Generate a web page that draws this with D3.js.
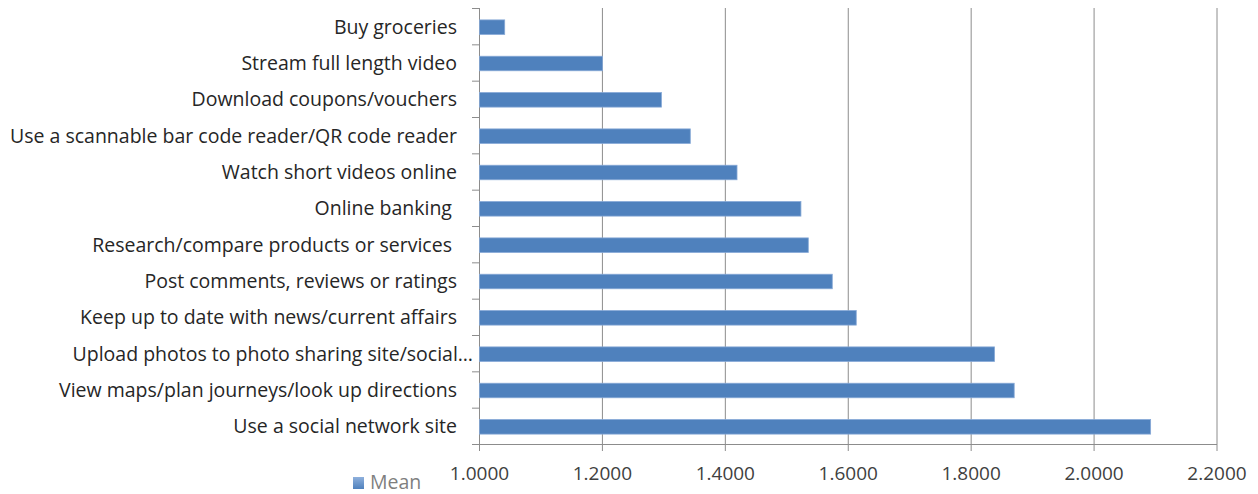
<!DOCTYPE html>
<html><head><meta charset="utf-8">
<script src="https://cdn.jsdelivr.net/npm/d3@7"></script>
<style>
body{margin:0;background:#fff;}
svg{display:block;}
text{font-family:"Open Sans",Lato,sans-serif;}
</style></head>
<body><svg id="chart" width="1258" height="494"></svg>
<script>
const categories = [
  "Buy groceries",
  "Stream full length video",
  "Download coupons/vouchers",
  "Use a scannable bar code reader/QR code reader",
  "Watch short videos online",
  "Online banking ",
  "Research/compare products or services ",
  "Post comments, reviews or ratings",
  "Keep up to date with news/current affairs",
  "Upload photos to photo sharing site/social…",
  "View maps/plan journeys/look up directions",
  "Use a social network site"
];
const meanValues = [1.041, 1.200, 1.296, 1.343, 1.419, 1.523, 1.535, 1.574, 1.613, 1.838, 1.870, 2.092];
const xTicks = [1.0, 1.2, 1.4, 1.6, 1.8, 2.0, 2.2];
const seriesName = "Mean";

const svg = d3.select("#chart");
const m = {left: 479, right: 1258 - 1216.5, top: 8, bottom: 494 - 444};
const W = 1258, H = 494;
const x = d3.scaleLinear().domain([1.0, 2.2]).range([m.left, W - m.right]);
const y = d3.scaleBand().domain(categories).range([m.top, H - m.bottom]).paddingInner(0.6).paddingOuter(0.3);
const yIdx = d3.scaleLinear().domain([0, categories.length]).range([m.top, H - m.bottom]);
const bottom = H - m.bottom;
const axisColor = "#8c8c8c";

// gridlines + bottom tick marks
const grid = svg.append("g").attr("transform", `translate(0,${bottom + 7})`)
  .call(d3.axisBottom(x).tickValues(xTicks).tickSize(-(bottom + 7 - m.top)).tickFormat(""));
grid.select(".domain").remove();
grid.selectAll(".tick line").attr("stroke", axisColor).attr("stroke-width", 1);

// bottom axis line + tick labels
const xl = svg.append("g").attr("transform", `translate(0,${bottom})`)
  .call(d3.axisBottom(x).tickValues(xTicks).tickSize(0).tickSizeOuter(0).tickPadding(22.5).tickFormat(d3.format(".4f")));
xl.select(".domain").attr("stroke", axisColor);
xl.selectAll("text").attr("font-size", 19).attr("fill", "#404040");

// left axis line with category boundary ticks
const la = svg.append("g").attr("transform", `translate(${m.left},0)`)
  .call(d3.axisLeft(yIdx).tickValues(d3.range(categories.length + 1)).tickSize(7).tickSizeOuter(0).tickFormat(""));
la.select(".domain").attr("stroke", axisColor);
la.selectAll(".tick line").attr("stroke", axisColor);

// bars
svg.append("g").selectAll("rect").data(categories).join("rect")
  .attr("x", x(1.0) + 0.5)
  .attr("y", d => y(d) + 1)
  .attr("width", (d, i) => x(meanValues[i]) - x(1.0))
  .attr("height", y.bandwidth())
  .attr("fill", "#4f81bd")
  .attr("stroke", "#86a8d6")
  .attr("stroke-width", 0.8);

// category labels
const cl = svg.append("g").attr("transform", `translate(${m.left},0)`)
  .call(d3.axisLeft(y).tickSize(0).tickPadding(22));
cl.select(".domain").remove();
cl.selectAll("text").attr("font-size", 19.5).attr("fill", "#262626")
  .attr("dy", "0.38em")
  .style("white-space", "pre")
  .attr("dx", d => d.endsWith("…") ? 16 : 0);

// legend
const lg = svg.append("g");
const grad = svg.append("defs").append("linearGradient").attr("id", "lgGrad").attr("x1", 0).attr("y1", 0).attr("x2", 0).attr("y2", 1);
grad.append("stop").attr("offset", "0%").attr("stop-color", "#8fb0dc");
grad.append("stop").attr("offset", "100%").attr("stop-color", "#4f81bd");
lg.append("rect").attr("x", 353).attr("y", 477).attr("width", 11).attr("height", 12).attr("fill", "url(#lgGrad)");
lg.append("text").attr("x", 370).attr("y", 489).attr("font-size", 19.5).attr("fill", "#7f7f7f").text(seriesName);
</script></body></html>
